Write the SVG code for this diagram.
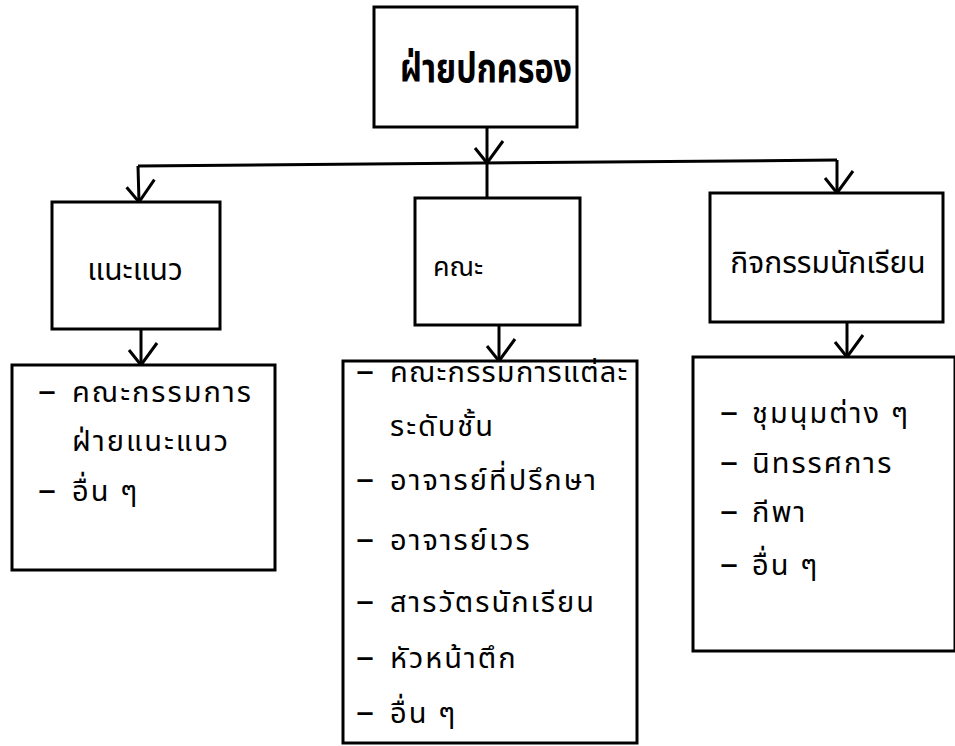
<svg xmlns="http://www.w3.org/2000/svg" width="955" height="746" viewBox="0 0 955 746">
<style>
  .box { fill: #fff; stroke: #000; stroke-width: 3; }
  .con { fill: none; stroke: #000; stroke-width: 3; }
  .t { font-family: "Noto Sans Thai", "Noto Sans Thai Looped", Loma, Garuda, "Noto Sans", "DejaVu Sans", sans-serif; fill: #000; }
  .title { font-size: 40px; font-weight: bold; }
  .lab { font-size: 30px; }
  .item { font-size: 29px; letter-spacing: 2px; }
  .d { font-size: 36px; }
</style>
<defs>
  <marker id="v" markerUnits="userSpaceOnUse" orient="auto" refX="0" refY="0" markerWidth="40" markerHeight="50" viewBox="-30 -25 40 50" overflow="visible">
    <path d="M -15 12 L 0 0 L -22 -16" fill="none" stroke="#000" stroke-width="3"/>
  </marker>
</defs>
<rect width="955" height="746" fill="#fff"/>
<g id="connectors">
  <path class="con" d="M 487 127 L 487 163" marker-end="url(#v)"/>
  <path class="con" d="M 487 163 L 487 198"/>
  <path class="con" d="M 138 166 L 837 160"/>
  <path class="con" d="M 138 166 L 139 202" marker-end="url(#v)"/>
  <path class="con" d="M 837 160 L 837 193" marker-end="url(#v)"/>
  <path class="con" d="M 141 329 L 141 365" marker-end="url(#v)"/>
  <path class="con" d="M 499 325 L 499 361" marker-end="url(#v)"/>
  <path class="con" d="M 847 322 L 847 357" marker-end="url(#v)"/>
</g>
<g id="node-top">
  <rect class="box" x="374" y="7" width="203" height="120"/>
  <text class="t title" x="486" y="82" text-anchor="middle" textLength="172" lengthAdjust="spacingAndGlyphs">ฝ่ายปกครอง</text>
</g>
<g id="node-guidance">
  <rect class="box" x="52" y="202" width="168" height="127"/>
  <text class="t lab" x="135" y="280" text-anchor="middle">แนะแนว</text>
</g>
<g id="node-faculty">
  <rect class="box" x="415" y="198" width="165" height="127"/>
  <text class="t lab" x="458" y="276" text-anchor="middle" style="font-size:27px">คณะ</text>
</g>
<g id="node-activities">
  <rect class="box" x="710" y="193" width="233" height="129"/>
  <text class="t lab" x="828" y="273" text-anchor="middle">กิจกรรมนักเรียน</text>
</g>
<g id="node-guidance-list">
  <rect class="box" x="12" y="365" width="263" height="205"/>
  <text class="t item" y="402"><tspan class="d" x="38">–</tspan><tspan x="72">คณะกรรมการ</tspan></text>
  <text class="t item" x="72" y="451">ฝ่ายแนะแนว</text>
  <text class="t item" y="501"><tspan class="d" x="38">–</tspan><tspan x="72">อื่น ๆ</tspan></text>
</g>
<g id="node-faculty-list">
  <rect class="box" x="343" y="361" width="294" height="382"/>
  <text class="t item" y="382" style="letter-spacing:1.2px"><tspan class="d" x="356">–</tspan><tspan x="390">คณะกรรมการแต่ละ</tspan></text>
  <text class="t item" x="390" y="436">ระดับชั้น</text>
  <text class="t item" y="490"><tspan class="d" x="356">–</tspan><tspan x="390">อาจารย์ที่ปรึกษา</tspan></text>
  <text class="t item" y="550"><tspan class="d" x="356">–</tspan><tspan x="390">อาจารย์เวร</tspan></text>
  <text class="t item" y="612"><tspan class="d" x="356">–</tspan><tspan x="390">สารวัตรนักเรียน</tspan></text>
  <text class="t item" y="668"><tspan class="d" x="356">–</tspan><tspan x="390">หัวหน้าตึก</tspan></text>
  <text class="t item" y="723"><tspan class="d" x="356">–</tspan><tspan x="390">อื่น ๆ</tspan></text>
</g>
<g id="node-activities-list">
  <rect class="box" x="693" y="357" width="262" height="294"/>
  <text class="t item" y="423"><tspan class="d" x="720">–</tspan><tspan x="752">ชุมนุมต่าง ๆ</tspan></text>
  <text class="t item" y="473"><tspan class="d" x="720">–</tspan><tspan x="752">นิทรรศการ</tspan></text>
  <text class="t item" y="522"><tspan class="d" x="720">–</tspan><tspan x="752">กีพา</tspan></text>
  <text class="t item" y="575"><tspan class="d" x="720">–</tspan><tspan x="752">อื่น ๆ</tspan></text>
</g>
</svg>
